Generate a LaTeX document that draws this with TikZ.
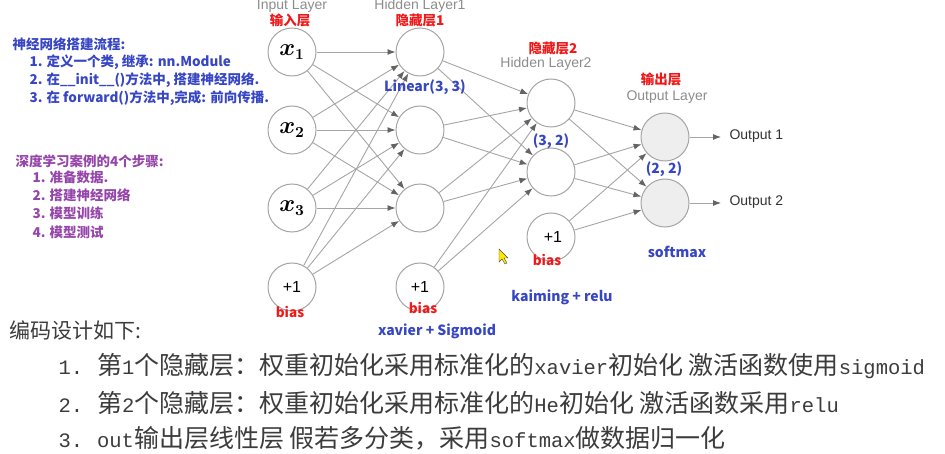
\documentclass[tikz,border=0pt]{standalone}
\usepackage{fontspec}
\setmainfont{Liberation Sans}
\newfontfamily\cjk{Noto Sans CJK SC}
\newfontfamily\lmono{Liberation Mono}
\usepackage{tikz}
\usetikzlibrary{arrows.meta}
\usepackage{xcolor}
\definecolor{netgray}{RGB}{165,165,165}
\definecolor{tipgray}{RGB}{100,100,100}
\definecolor{laygray}{RGB}{140,140,140}
\definecolor{noteblue}{RGB}{55,70,195}
\definecolor{notepurple}{RGB}{150,70,170}
\definecolor{notered}{RGB}{240,25,25}
\definecolor{outfill}{RGB}{238,238,238}
\definecolor{codegray}{RGB}{60,60,60}
\newcommand{\lat}[1]{{\lmono\fontsize{20.5}{20}\selectfont #1}}
\newcommand{\inx}[1]{\scalebox{1.4}{\boldmath$x_{#1}$}}

\begin{document}
\begin{tikzpicture}[x=1pt, y=-1pt,
            neuron/.style={circle, draw=netgray, line width=1pt, minimum size=48pt, inner sep=0pt, fill=white, font=\fontsize{16}{16}\selectfont},
            outneuron/.style={neuron, fill=outfill},
            wire/.style={draw=netgray, line width=0.9pt, -{Latex[length=8pt, width=6pt, color=tipgray]}},
            laylabel/.style={text=laygray, font=\fontsize{14}{14}\selectfont},
            redlabel/.style={text=notered, font=\cjk\bfseries\fontsize{13.5}{14}\selectfont},
            bluelabel/.style={text=noteblue, font=\cjk\bfseries\fontsize{14}{14}\selectfont},
            bluenote/.style={anchor=west, text=noteblue, font=\cjk\bfseries\fontsize{13.5}{14}\selectfont},
            purplenote/.style={anchor=west, text=notepurple, font=\cjk\bfseries\fontsize{13.5}{14}\selectfont},
            codeline/.style={anchor=west, text=codegray, font=\cjk\fontsize{25}{25}\selectfont}]
            \useasboundingbox (0,0) rectangle (945,454);
            \node[neuron] (x1) at (292,52) {\inx{1}};
            \node[neuron] (x2) at (292,130) {\inx{2}};
            \node[neuron] (x3) at (292,208) {\inx{3}};
            \node[neuron] (b0) at (292,287) {+1};
            \node[neuron] (h1) at (420,52) {};
            \node[neuron] (h2) at (420,130) {};
            \node[neuron] (h3) at (420,208) {};
            \node[neuron] (b1) at (420,287) {+1};
            \node[neuron] (g1) at (551,103) {};
            \node[neuron] (g2) at (551,172) {};
            \node[neuron] (b2) at (551,237) {\hspace{4pt}+1};
            \node[outneuron] (o1) at (665,137) {};
            \node[outneuron] (o2) at (665,203) {};
            \foreach \s in {x1,x2,x3,b0}
                \foreach \t in {h1,h2,h3}
                    \draw[wire] (\s) -- (\t);
            \foreach \s in {h1,h2,h3,b1}
                \foreach \t in {g1,g2}
                    \draw[wire] (\s) -- (\t);
            \foreach \s in {g1,g2,b2}
                \foreach \t in {o1,o2}
                    \draw[wire] (\s) -- (\t);
            \coordinate (y1) at (721,137);
            \coordinate (y2) at (721,203);
            \draw[wire] (o1) -- (y1);
            \draw[wire] (o2) -- (y2);
            \node[anchor=west, text=black!80, font=\fontsize{14}{14}\selectfont] (out1) at (726,136) {Output 1};
            \node[anchor=west, text=black!80, font=\fontsize{14}{14}\selectfont] (out2) at (726,202) {Output 2};
            \node[laylabel] (inlay) at (292,6) {Input Layer};
            \node[redlabel] (inred) at (290,20) {输入层};
            \node[laylabel] (h1lay) at (420,6) {Hidden Layer1};
            \node[redlabel] (h1red) at (420,20) {隐藏层1};
            \node[redlabel] (h2red) at (553,48) {隐藏层2};
            \node[laylabel] (h2lay) at (546,64) {Hidden Layer2};
            \node[redlabel] (outred) at (661,79) {输出层};
            \node[laylabel] (outlay) at (667,97) {Output Layer};
            \node[redlabel] (bias0) at (290,312) {bias};
            \node[redlabel] (bias1) at (423,308) {bias};
            \node[redlabel] (bias2) at (547,260) {bias};
            \node[bluelabel] (lin1) at (425,87) {Linear(3, 3)};
            \node[bluelabel] (lin2) at (551,141) {(3, 2)};
            \node[bluelabel] (lin3) at (664,169) {(2, 2)};
            \node[bluelabel] (act3) at (677,252) {softmax};
            \node[bluelabel] (act2) at (562,297) {kaiming + relu};
            \node[bluelabel] (act1) at (437,331) {xavier + Sigmoid};
            \node[bluenote] (flow) at (9,44) {神经网络搭建流程:};
            \node[bluenote] (flow1) at (26,62) {1. 定义一个类, 继承: nn.Module};
            \node[bluenote] (flow2) at (26,80) {2. 在\_\_init\_\_()方法中, 搭建神经网络.};
            \node[bluenote] (flow3) at (26,98) {3. 在 forward()方法中,完成: 前向传播.};
            \node[purplenote] (steps) at (12,161) {深度学习案例的4个步骤:};
            \node[purplenote] (step1) at (29,177) {1. 准备数据.};
            \node[purplenote] (step2) at (29,195) {2. 搭建神经网络};
            \node[purplenote] (step3) at (29,213) {3. 模型训练};
            \node[purplenote] (step4) at (29,232) {4. 模型测试};
            \fill[yellow!90!orange, draw=black!70, line width=0.4pt] (499,249) -- (499,262) -- (502,259) -- (505,264) -- (507,263) -- (504,258) -- (508,258) -- cycle;
            \node[codeline, font=\cjk\fontsize{21}{21}\selectfont] (code) at (6,330) {编码设计如下:};
            \node[codeline] (code1) at (55,366) {\lat{1.}\hspace{14pt}第\lat{1}个隐藏层：权重初始化采用标准化的\lat{xavier}初始化 激活函数使用\lat{sigmoid}};
            \node[codeline] (code2) at (55,403) {\lat{2.}\hspace{14pt}第\lat{2}个隐藏层：权重初始化采用标准化的\lat{He}初始化 激活函数采用\lat{relu}};
            \node[codeline] (code3) at (55,438) {\lat{3.}\hspace{14pt}\lat{out}输出层线性层 假若多分类，采用\lat{softmax}做数据归一化};
        \end{tikzpicture}
\end{document}
